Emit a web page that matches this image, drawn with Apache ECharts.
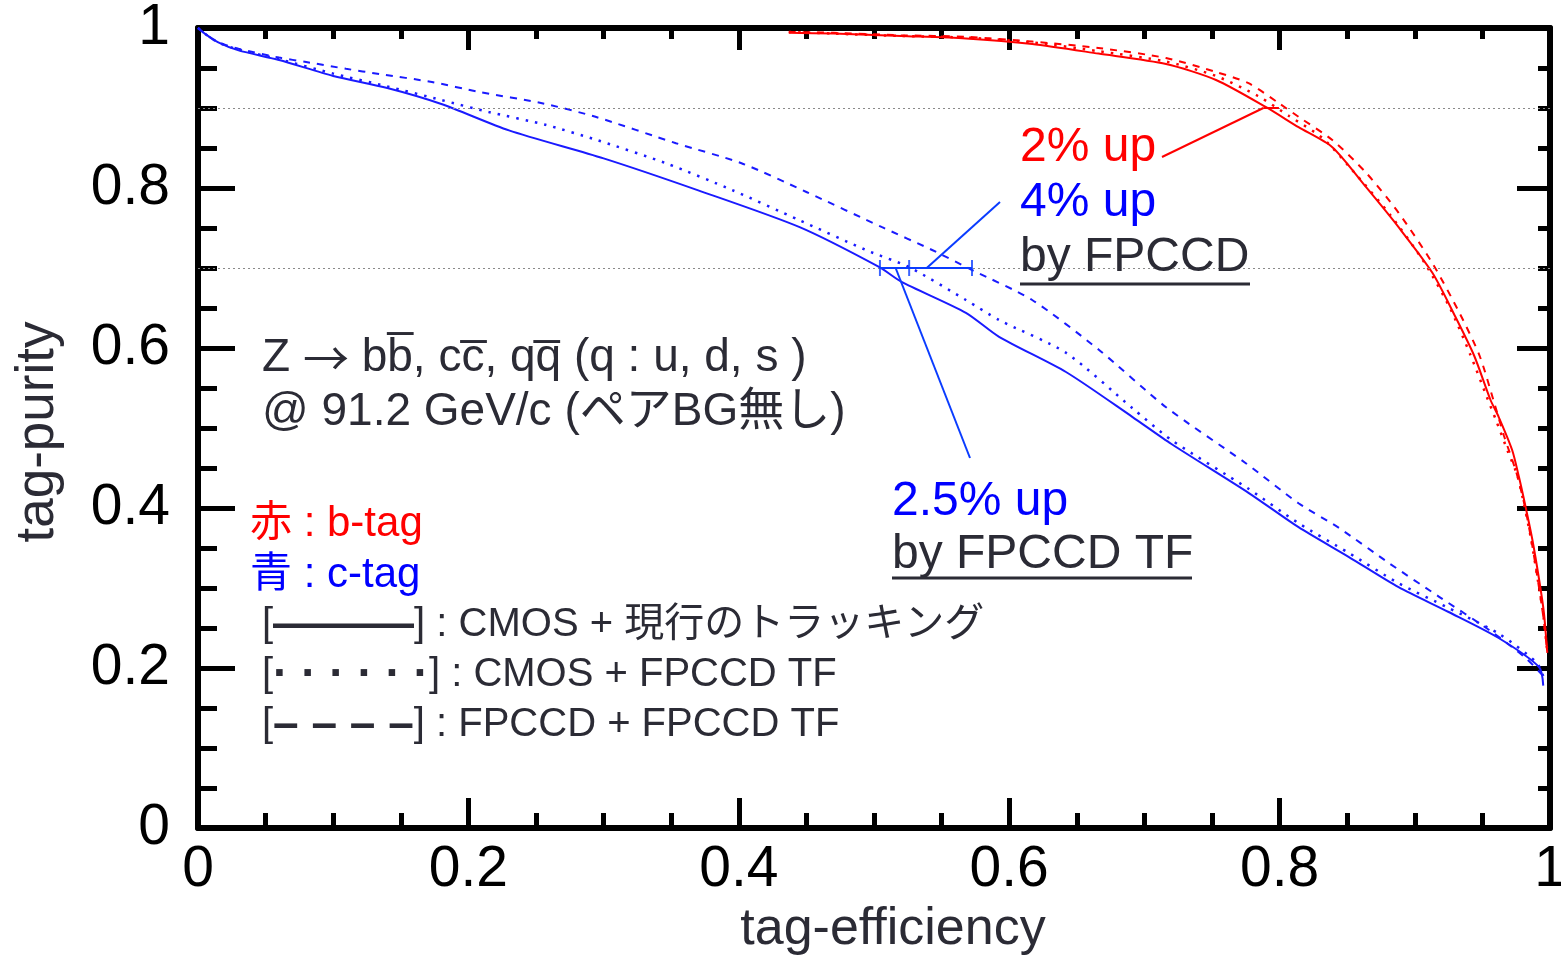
<!DOCTYPE html>
<html>
<head>
<meta charset="utf-8">
<script src="https://cdn.jsdelivr.net/npm/echarts@6/dist/echarts.min.js"></script>
<style>
  html, body { margin: 0; padding: 0; background: #ffffff; }
  #chart { width: 1561px; height: 955px; }
</style>
</head>
<body>
<div id="chart"></div>
<script>
// ---- tick labels ----
const xTickLabels = ['0', '0.2', '0.4', '0.6', '0.8', '1'];
const yTickLabels = ['0', '0.2', '0.4', '0.6', '0.8', '1'];

// ---- c-tag (blue): CMOS + current tracking ----
const cCmosEff = [0, 0.005, 0.015, 0.03, 0.06, 0.10, 0.14, 0.18, 0.23, 0.30, 0.37, 0.445, 0.504, 0.52, 0.568, 0.5925, 0.642, 0.691, 0.72, 0.777, 0.814, 0.851, 0.888, 0.925, 0.962, 0.992, 0.995];
const cCmosPur = [1.0, 0.993, 0.982, 0.972, 0.96, 0.94, 0.925, 0.905, 0.872, 0.837, 0.797, 0.751, 0.701, 0.683, 0.644, 0.614, 0.57, 0.514, 0.48, 0.419, 0.376, 0.339, 0.301, 0.27, 0.2375, 0.201, 0.178];

// ---- c-tag (blue): CMOS + FPCCD TF ----
const cTfEff = [0, 0.005, 0.015, 0.03, 0.06, 0.10, 0.14, 0.18, 0.215, 0.257, 0.295, 0.346, 0.395, 0.4445, 0.494, 0.526, 0.568, 0.5925, 0.642, 0.691, 0.72, 0.777, 0.814, 0.851, 0.888, 0.925, 0.962, 0.99, 0.995];
const cTfPur = [1.0, 0.993, 0.982, 0.973, 0.961, 0.943, 0.927, 0.91, 0.895, 0.879, 0.86, 0.831, 0.7975, 0.76, 0.7225, 0.701, 0.66, 0.635, 0.594, 0.525, 0.485, 0.424, 0.381, 0.344, 0.306, 0.275, 0.243, 0.207, 0.19];

// ---- c-tag (blue): FPCCD + FPCCD TF ----
const cFpEff = [0, 0.005, 0.015, 0.03, 0.06, 0.08, 0.1095, 0.134, 0.173, 0.208, 0.2545, 0.294, 0.3535, 0.402, 0.45, 0.506, 0.543, 0.5725, 0.617, 0.6665, 0.716, 0.775, 0.814, 0.844, 0.881, 0.918, 0.955, 0.982, 0.995];
const cFpPur = [1.0, 0.993, 0.982, 0.974, 0.963, 0.9575, 0.949, 0.9425, 0.9325, 0.92, 0.906, 0.889, 0.856, 0.831, 0.795, 0.751, 0.7225, 0.6975, 0.66, 0.5975, 0.526, 0.456, 0.406, 0.375, 0.331, 0.289, 0.2475, 0.2125, 0.19];

// ---- b-tag (red): CMOS + current tracking ----
const bCmosEff = [0.437, 0.47, 0.52, 0.568, 0.617, 0.666, 0.716, 0.753, 0.79, 0.814, 0.839, 0.864, 0.888, 0.913, 0.930, 0.944, 0.956, 0.962, 0.972, 0.977, 0.982, 0.987, 0.992, 0.9955, 0.998];
const bCmosPur = [0.994, 0.993, 0.99, 0.987, 0.98, 0.968, 0.955, 0.935, 0.901, 0.876, 0.851, 0.801, 0.751, 0.694, 0.639, 0.59, 0.535, 0.514, 0.4725, 0.439, 0.401, 0.36, 0.31, 0.269, 0.219];

// ---- b-tag (red): CMOS + FPCCD TF ----
const bTfEff = [0.437, 0.47, 0.52, 0.568, 0.617, 0.666, 0.716, 0.753, 0.784, 0.807, 0.832, 0.857, 0.882, 0.907, 0.926, 0.941, 0.953, 0.96, 0.969, 0.976, 0.981, 0.986, 0.991, 0.995, 0.998];
const bTfPur = [0.995, 0.993, 0.99, 0.988, 0.982, 0.971, 0.958, 0.94, 0.915, 0.89, 0.862, 0.816, 0.766, 0.707, 0.65, 0.592, 0.54, 0.51, 0.47, 0.44, 0.403, 0.361, 0.31, 0.267, 0.22];

// ---- b-tag (red): FPCCD + FPCCD TF ----
const bFpEff = [0.437, 0.47, 0.52, 0.568, 0.617, 0.666, 0.716, 0.753, 0.777, 0.7995, 0.814, 0.839, 0.864, 0.888, 0.913, 0.933, 0.948, 0.959, 0.966, 0.975, 0.981, 0.986, 0.991, 0.995, 0.998];
const bFpPur = [0.995, 0.994, 0.991, 0.989, 0.983, 0.975, 0.9625, 0.945, 0.931, 0.906, 0.889, 0.86, 0.819, 0.769, 0.706, 0.644, 0.59, 0.53, 0.49, 0.445, 0.405, 0.362, 0.31, 0.265, 0.22];

// ---- reference purities and efficiencies read at them ----
const refPurity = [0.9, 0.7];
const bEffAt09 = [0.788, 0.7995];          // CMOS, FPCCD at purity 0.9
const cEffAt07 = [0.5044, 0.526, 0.5725];  // CMOS, CMOS+TF, FPCCD at purity 0.7
const cLeaderAt07 = [0.539, 0.516];        // leader anchors for "4% up" and "2.5% up"

const zip = (a, b) => a.map((v, i) => [v, b[i]]);

const FONT = '"Liberation Sans", Arial, "Noto Sans CJK JP", sans-serif';
const CJK = '"Noto Sans CJK JP", sans-serif';
const TEXT_DARK = '#2b2b35';
const RED = '#ff0000';
const BLUE = '#0000ff';
const CURVE_BLUE = '#1a1aff';

const chart = echarts.init(document.getElementById('chart'), null, { renderer: 'canvas' });

function xAxisCfg(pos, major, minor, showLabel) {
  return {
    type: 'value', position: pos, min: 0, max: 1, interval: 0.2,
    axisLine: { show: true, onZero: false, lineStyle: { color: '#000', width: 6 } },
    axisTick: { show: true, inside: true, length: major, lineStyle: { color: '#000', width: 5 } },
    minorTick: { show: true, splitNumber: 4, length: minor, lineStyle: { color: '#000', width: 5 } },
    splitLine: { show: false },
    axisLabel: {
      show: showLabel, margin: 14, color: '#000', fontSize: 57, fontFamily: FONT,
      formatter: v => xTickLabels[Math.round(v / 0.2)]
    }
  };
}
function yAxisCfg(pos, major, minor, showLabel) {
  return {
    type: 'value', position: pos, min: 0, max: 1, interval: 0.2,
    axisLine: { show: true, onZero: false, lineStyle: { color: '#000', width: 6 } },
    axisTick: { show: true, inside: true, length: major, lineStyle: { color: '#000', width: 5 } },
    minorTick: { show: true, splitNumber: 4, length: minor, lineStyle: { color: '#000', width: 5 } },
    splitLine: { show: false },
    axisLabel: {
      show: showLabel, margin: 28, color: '#000', fontSize: 57, fontFamily: FONT,
      formatter: v => yTickLabels[Math.round(v / 0.2)]
    }
  };
}

function curve(name, eff, pur, color, type, width) {
  return {
    name, type: 'line', xAxisIndex: 0, yAxisIndex: 0,
    data: zip(eff, pur), showSymbol: false, symbol: 'none', silent: true,
    smooth: 0.25,
    lineStyle: { color, width: width || 2, type }, z: 3
  };
}

const dotted = [2.5, 7];
const dashed = [7, 7];

chart.setOption({
  animation: false,
  backgroundColor: '#ffffff',
  grid: { left: 198, right: 11, top: 28, bottom: 127, containLabel: false, outerBoundsMode: 'none' },
  xAxis: [xAxisCfg('bottom', 30, 15, true), xAxisCfg('top', 22, 11, false)],
  yAxis: [yAxisCfg('left', 37, 19, true), yAxisCfg('right', 33, 12, false)],
  series: [
    Object.assign(curve('c CMOS', cCmosEff, cCmosPur, CURVE_BLUE, 'solid'), {
      markLine: {
        silent: true, symbol: 'none', label: { show: false },
        lineStyle: { color: '#8a8a8a', type: [2, 3], width: 1 },
        data: refPurity.map(v => ({ yAxis: v }))
      }
    }),
    curve('c CMOS+TF', cTfEff, cTfPur, CURVE_BLUE, dotted, 2.5),
    curve('c FPCCD+TF', cFpEff, cFpPur, CURVE_BLUE, dashed),
    curve('b CMOS', bCmosEff, bCmosPur, RED, 'solid'),
    curve('b CMOS+TF', bTfEff, bTfPur, RED, dotted, 2.5),
    curve('b FPCCD+TF', bFpEff, bFpPur, RED, dashed),
    // efficiency gain bars at fixed purity
    {
      type: 'line', silent: true, showSymbol: false, symbol: 'none', z: 5,
      data: [[bEffAt09[0], refPurity[0]], [bEffAt09[1], refPurity[0]]],
      lineStyle: { color: RED, width: 2 }
    },
    {
      type: 'line', silent: true, showSymbol: false, symbol: 'none', z: 5,
      data: [[cEffAt07[0], refPurity[1]], [cEffAt07[2], refPurity[1]]],
      lineStyle: { color: '#0a3cff', width: 2 }
    },
    {
      type: 'scatter', silent: true, z: 5, symbol: 'rect', symbolSize: [2, 16],
      itemStyle: { color: '#0a3cff' },
      data: cEffAt07.map(e => [e, refPurity[1]])
    }
  ]
});

// ---- annotations ----
function txt(text, x, y, size, color, extra) {
  const el = {
    type: 'text', x, y, silent: true, z: 10,
    style: { text, fill: color, font: `${size}px ${FONT}`, align: 'left', verticalAlign: 'middle' }
  };
  if (extra) Object.assign(el.style, extra);
  return el;
}
function seg(x1, y1, x2, y2, color, w) {
  return { type: 'line', silent: true, z: 10, shape: { x1, y1, x2, y2 }, style: { stroke: color, lineWidth: w } };
}
const px = (e, p) => chart.convertToPixel({ gridIndex: 0 }, [e, p]);

const redAnchor = px(bEffAt09[0], refPurity[0]);
const blue4Anchor = px(cLeaderAt07[0], refPurity[1]);
const blue25Anchor = px(cLeaderAt07[1], refPurity[1]);

// rich styles for the line-style key
const keyRich = {
  br: { fontSize: 40, fontFamily: FONT, fill: TEXT_DARK },
  ln: { fontSize: 47, fontWeight: 'bold', fontFamily: FONT, fill: TEXT_DARK },
  dt: { fontSize: 46, fontWeight: 'bold', fontFamily: FONT, fill: TEXT_DARK },
  t: { fontSize: 40, fontFamily: FONT, fill: TEXT_DARK }
};
const arrowRich = {
  t: { fontSize: 46, fontFamily: FONT, fill: TEXT_DARK },
  ar: { fontSize: 46, fontFamily: CJK, fill: TEXT_DARK }
};

chart.setOption({
  graphic: [
    // axis titles
    txt('tag-efficiency', 893, 930, 52, TEXT_DARK, { align: 'center' }),
    {
      type: 'text', x: 38, y: 432, rotation: Math.PI / 2, silent: true, z: 10,
      style: { text: 'tag-purity', fill: TEXT_DARK, font: `53px ${FONT}`, align: 'center', verticalAlign: 'middle' }
    },
    // process description
    txt('{t|Z }{ar|\u2192}{t| bb\u0305, cc\u0305, qq\u0305 (q : u, d, s )}', 262, 358, 46, TEXT_DARK, { rich: arrowRich }),
    txt('@ 91.2 GeV/c (ペアBG無し)', 262, 412, 46, TEXT_DARK),
    // colour key
    txt('赤 : b-tag', 250, 524, 42, RED),
    txt('青 : c-tag', 250, 575, 42, BLUE),
    txt('{br|[}{ln|———}{br|]}{t| : CMOS + 現行のトラッキング}', 262, 625, 40, TEXT_DARK, { rich: keyRich }),
    txt('{br|[}{dt|· · · · · ·}{br|]}{t| : CMOS + FPCCD TF}', 262, 675, 40, TEXT_DARK, { rich: keyRich }),
    txt('{br|[}{dt|– – – –}{br|]}{t| : FPCCD + FPCCD TF}', 262, 725, 40, TEXT_DARK, { rich: keyRich }),
    // gain labels
    txt('2% up', 1020, 148, 48, RED),
    txt('4% up', 1020, 203, 48, BLUE),
    txt('by FPCCD', 1020, 258, 48, TEXT_DARK),
    seg(1020, 284, 1250, 284, TEXT_DARK, 3),
    txt('2.5% up', 892, 502, 48, BLUE),
    txt('by FPCCD TF', 892, 555, 48, TEXT_DARK),
    seg(892, 578, 1192, 578, TEXT_DARK, 3),
    // leader lines
    seg(1162, 157, redAnchor[0], redAnchor[1], RED, 2),
    seg(1000, 202, blue4Anchor[0], blue4Anchor[1], '#0a3cff', 2),
    seg(970, 458, blue25Anchor[0], blue25Anchor[1], '#0a3cff', 2)
  ]
});
</script>
</body>
</html>
